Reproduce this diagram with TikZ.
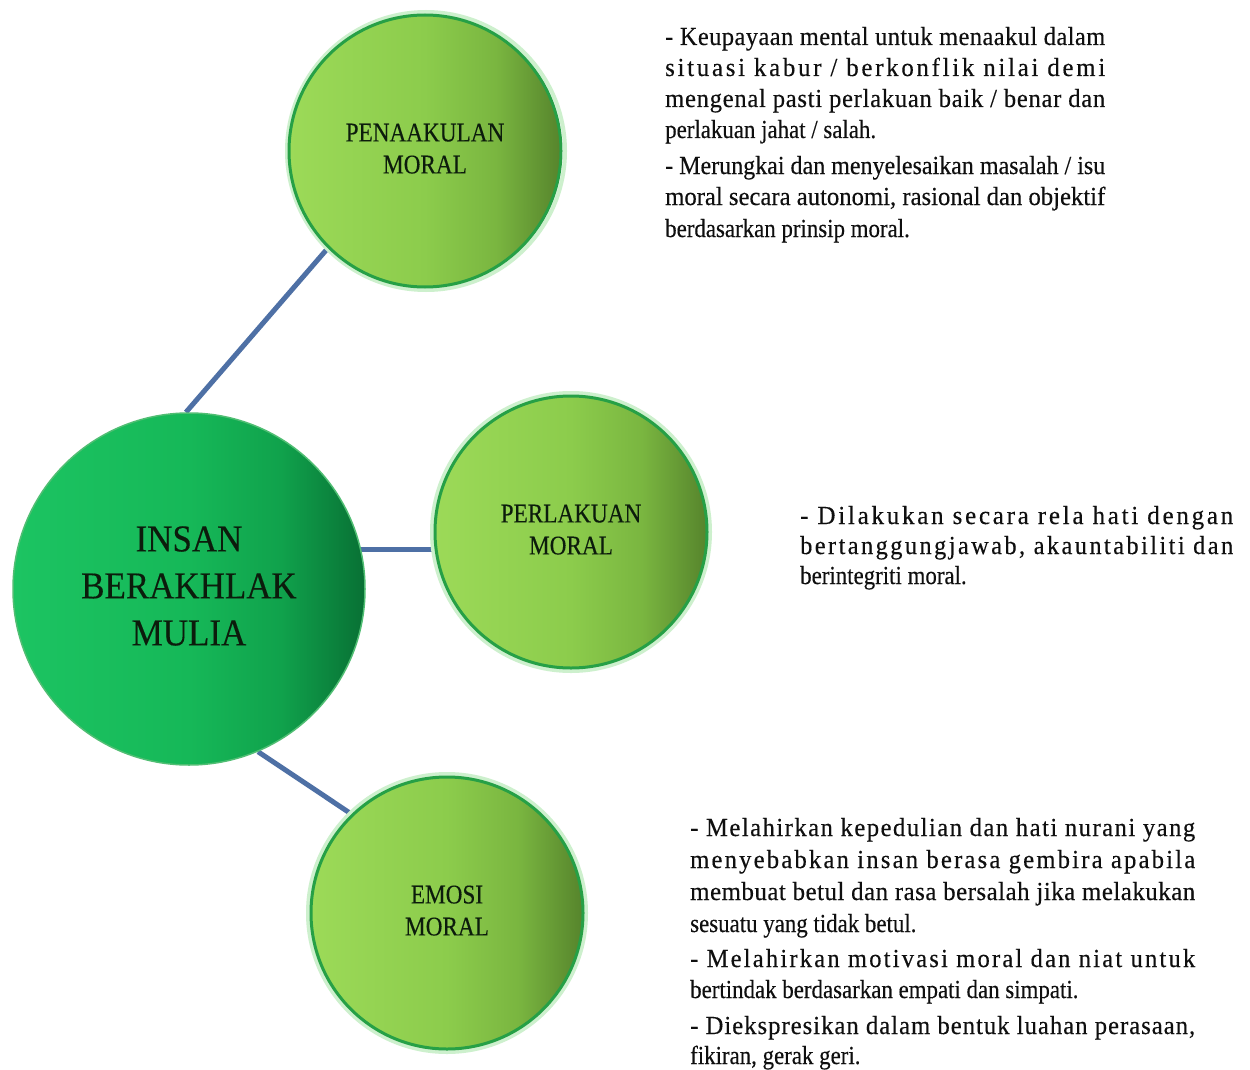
\documentclass[tikz,border=0pt]{standalone}
\usepackage{fontspec}
\setmainfont{Liberation Serif}
\usepackage{graphicx}
\usetikzlibrary{backgrounds}
\definecolor{bgA}{RGB}{28,196,98}
\definecolor{bgB}{RGB}{22,184,88}
\definecolor{bgC}{RGB}{16,162,76}
\definecolor{bgD}{RGB}{8,112,52}
\definecolor{sgA}{RGB}{156,218,88}
\definecolor{sgB}{RGB}{140,204,76}
\definecolor{sgC}{RGB}{122,182,64}
\definecolor{sgD}{RGB}{86,132,44}
\definecolor{bigedge}{RGB}{80,190,115}
\definecolor{smalledge}{RGB}{38,160,70}
\definecolor{glow}{RGB}{205,240,205}
\definecolor{connblue}{RGB}{78,112,165}
\definecolor{txt}{RGB}{15,15,15}
\definecolor{lbl}{RGB}{12,28,12}
\pgfdeclarehorizontalshading{bigshade}{100bp}{color(0bp)=(bgA); color(25bp)=(bgA); color(50bp)=(bgB); color(63bp)=(bgC); color(75bp)=(bgD); color(100bp)=(bgD)}
\pgfdeclarehorizontalshading{smallshade}{100bp}{color(0bp)=(sgA); color(25bp)=(sgA); color(50bp)=(sgB); color(63bp)=(sgC); color(75bp)=(sgD); color(100bp)=(sgD)}
\newlength\fitw
% a justified line: letter-spaced by #1, then scaled horizontally to width #2
\newcommand\fitline[3][0]{%
  \begingroup
  \addfontfeatures{LetterSpace=#1}%
  \setbox0=\hbox{#3}%
  \fitw=\wd0
  \pgfmathsetmacro\fitr{#2/\fitw}%
  \scalebox{\fitr}[1]{\box0}%
  \endgroup}
% a last (ragged) line: condensed like the reference
\newcommand\natline[1]{\scalebox{0.88}[1]{#1}}
% a centred circle label, condensed
\newcommand\clabel[2]{\scalebox{#1}[1]{\begin{tabular}{@{}c@{}}#2\end{tabular}}}
\tikzset{
  bigc/.style={circle, inner sep=0pt, minimum size=352pt, shade, shading=bigshade,
    draw=bigedge, line width=1.5pt, text=lbl,
    font=\fontsize{38}{47}\selectfont\addfontfeatures{FakeBold=0.3}},
  smallc/.style={circle, inner sep=0pt, minimum size=272pt, shade, shading=smallshade,
    draw=smalledge, line width=3pt, text=lbl,
    font=\fontsize{27}{32}\selectfont\addfontfeatures{FakeBold=0.3}},
  glowc/.style={circle, inner sep=0pt, minimum size=278pt, draw=glow, line width=4pt},
  conn/.style={draw=connblue, line width=5pt},
  para/.style={anchor=base west, inner sep=0pt, text=txt,
    font=\fontsize{26}{30}\selectfont\addfontfeatures{FakeBold=0.35}},
}
\begin{document}
\begin{tikzpicture}[x=1pt,y=-1pt]
\useasboundingbox (0,0) rectangle (1250,1070);
% glows
\node[glowc] (peng) at (426,151) {};
\node[glowc] (perlg) at (571,532) {};
\node[glowc] (emog) at (447,913) {};
% circles
\node[bigc] (big) at (189,589) {\clabel{0.92}{INSAN\\BERAKHLAK\\MULIA}};
\node[smallc] (pen) at (425,151) {\clabel{0.86}{PENAAKULAN\\MORAL}};
\node[smallc] (perl) at (571,532) {\clabel{0.86}{PERLAKUAN\\MORAL}};
\node[smallc] (emo) at (447,913) {\clabel{0.86}{EMOSI\\MORAL}};
\begin{pgfonlayer}{background}
\fill[white] (0,0) rectangle (1250,1070);
\draw[conn] (big.91) -- (pen.225);
\draw[conn] (big.13) -- (perl.west |- big.13);
\draw[conn] (big.-67) -- (emo.134);
\end{pgfonlayer}
% paragraph 1
\node[para] (a1) at (665,45)  {\fitline[2]{440}{- Keupayaan mental untuk menaakul dalam}};
\node[para] (a2) at (665,76)  {\fitline[11]{440}{situasi kabur / berkonflik nilai demi}};
\node[para] (a3) at (665,107) {\fitline[3]{440}{mengenal pasti perlakuan baik / benar dan}};
\node[para] (a4) at (665,138) {\natline{perlakuan jahat / salah.}};
\node[para] (a5) at (665,174) {\fitline[0]{440}{- Merungkai dan menyelesaikan masalah / isu}};
\node[para] (a6) at (665,205) {\fitline[0]{440}{moral secara autonomi, rasional dan objektif}};
\node[para] (a7) at (665,237) {\natline{berdasarkan prinsip moral.}};
% paragraph 2
\node[para] (b1) at (800,524) {\fitline[11]{433}{- Dilakukan secara rela hati dengan}};
\node[para] (b2) at (800,554) {\fitline[10]{433}{bertanggungjawab, akauntabiliti dan}};
\node[para] (b3) at (800,584) {\natline{berintegriti moral.}};
% paragraph 3
\node[para] (c1) at (690,836)  {\fitline[6]{505}{- Melahirkan kepedulian dan hati nurani yang}};
\node[para] (c2) at (690,868)  {\fitline[9]{505}{menyebabkan insan berasa gembira apabila}};
\node[para] (c3) at (690,900)  {\fitline[2]{505}{membuat betul dan rasa bersalah jika melakukan}};
\node[para] (c4) at (690,932)  {\natline{sesuatu yang tidak betul.}};
\node[para] (c5) at (690,967)  {\fitline[9]{505}{- Melahirkan motivasi moral dan niat untuk}};
\node[para] (c6) at (690,998)  {\natline{bertindak berdasarkan empati dan simpati.}};
\node[para] (c7) at (690,1034) {\fitline[4]{505}{- Diekspresikan dalam bentuk luahan perasaan,}};
\node[para] (c8) at (690,1064) {\natline{fikiran, gerak geri.}};
\end{tikzpicture}
\end{document}
